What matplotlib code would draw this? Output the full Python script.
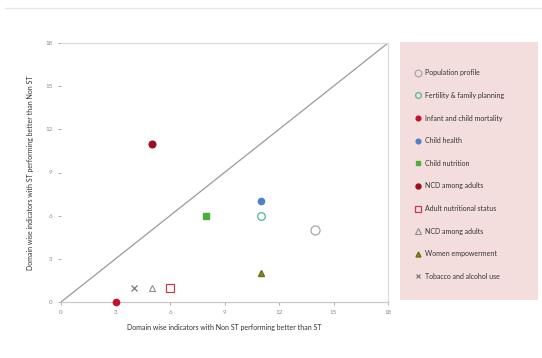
import matplotlib
matplotlib.use("Agg")
import matplotlib.pyplot as plt
from matplotlib.patches import Rectangle
from matplotlib.lines import Line2D

plt.rcParams['font.family'] = ['Lato', 'DejaVu Sans']

# domain wise counts: (Non ST better, ST better)
domains = ["Population profile", "Fertility & family planning", "Infant and child mortality",
           "Child health", "Child nutrition", "NCD among adults", "Adult nutritional status",
           "NCD among adults", "Women empowerment", "Tobacco and alcohol use"]
non_st_better = [14, 11, 3, 11, 8, 5, 6, 5, 11, 4]
st_better = [5, 6, 0, 7, 6, 11, 1, 1, 2, 1]
ticks = [0, 3, 6, 9, 12, 15, 18]

# marker styles per domain
styles = [
    dict(marker="o", mfc="none", mec="#a8a8a8", ms=6.5, mew=0.9),
    dict(marker="o", mfc="none", mec="#5cbf95", ms=5.5, mew=1.0),
    dict(marker="o", mfc="#c4102c", mec="#c4102c", ms=4.5),
    dict(marker="o", mfc="#4d80c4", mec="#4d80c4", ms=4.5),
    dict(marker="s", mfc="#4caf3c", mec="#4caf3c", ms=4.2),
    dict(marker="o", mfc="#9e0e20", mec="#9e0e20", ms=4.8),
    dict(marker="s", mfc="none", mec="#c8384e", ms=5.5, mew=0.9),
    dict(marker="^", mfc="none", mec="#8e8e8e", ms=5, mew=0.8),
    dict(marker="^", mfc="#8c8c22", mec="#6e6e14", ms=4.8),
    dict(marker="x", mfc="none", mec="#7a7a7a", ms=4.5, mew=0.9),
]

fig = plt.figure(figsize=(5.42, 3.58), dpi=100)
ax = fig.add_axes([61/542, 56/358, 327/542, 259/358])

ax.plot([0, 18], [0, 18], color="#9a9a9a", lw=0.9, zorder=1)

handles = []
for name, x, y, st in zip(domains, non_st_better, st_better, styles):
    h, = ax.plot([x], [y], linestyle="none", zorder=3, clip_on=False, **st)
    handles.append(h)

ax.set_xlim(0, 18)
ax.set_ylim(0, 18)
ax.set_xticks(ticks)
ax.set_yticks(ticks)
ax.tick_params(labelsize=4.5, colors="#8a8a8a", length=2, width=0.5, pad=4)

for side in ["top", "right"]:
    ax.spines[side].set_color("#dcdcdc")
    ax.spines[side].set_linewidth(0.9)
ax.spines["bottom"].set_color("#c8c8c8")
ax.spines["bottom"].set_linewidth(0.9)
ax.spines["left"].set_visible(False)

ax.set_xlabel("Domain wise indicators with Non ST performing better than ST",
              fontsize=5, color="#333333", labelpad=6)
ax.set_ylabel("Domain wise indicators with ST performing better than Non ST",
              fontsize=5, color="#333333", labelpad=8)

# faint separator line at the top of the figure
fig.add_artist(Line2D([0.01, 1], [1 - 8/358, 1 - 8/358], color="#e6e6e6", lw=1))

# legend panel
fig.add_artist(Rectangle((400/542, 1 - 300/358), 138/542, 258/358,
                         facecolor="#f4dedd", edgecolor="none", zorder=0))
fig.legend(handles, domains, loc="upper left", bbox_to_anchor=(408/542, 1 - 63/358),
           frameon=False, fontsize=5, labelspacing=2.25, handlelength=1.0,
           handletextpad=0.6, markerscale=0.75, labelcolor="#333333")

fig.savefig("out.png", dpi=100)
